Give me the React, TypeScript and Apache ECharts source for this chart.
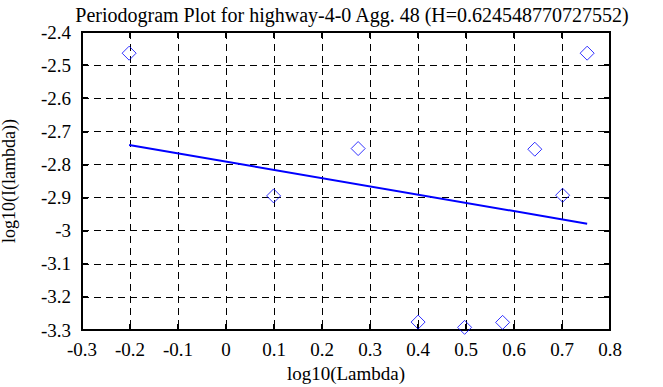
import React, { useEffect, useRef } from "react";
import * as echarts from "echarts";

const titleText = "Periodogram Plot for highway-4-0 Agg. 48 (H=0.624548770727552)";
const xName = "log10(Lambda)";
const yName = "log10(I(lambda))";

const logLambda = [-0.2018, 0.0992, 0.2753, 0.4002, 0.4971, 0.5763, 0.6433, 0.7013, 0.7524];
const logPeriodogram = [-2.464, -2.895, -2.752, -3.276, -3.292, -3.277, -2.754, -2.893, -2.464];
const fitX = [-0.2018, 0.7524];
const fitY = [-2.741, -2.979];

const fmt = (v: number) => {
  const r = parseFloat(v.toFixed(1));
  return r === 0 ? "0" : String(r);
};

export default function App() {
  const ref = useRef<HTMLDivElement>(null);
  useEffect(() => {
    if (!ref.current) return;
    const chart = echarts.init(ref.current, null, { renderer: "svg" });
    const font = "'Liberation Serif', 'Times New Roman', serif";
    const gridLeft = 82, gridRight = 53, gridTop = 32, gridBottom = 57;
    const tickStyle = { show: true, inside: true, length: 6, lineStyle: { color: "#000", width: 2 } };
    const splitStyle = { show: true, lineStyle: { color: "#000", width: 1, type: [7, 5] as any } };
    chart.setOption({
      animation: false,
      backgroundColor: "#fff",
      title: {
        text: titleText,
        left: 347,
        textAlign: "center",
        top: 0,
        textStyle: { fontFamily: font, fontSize: 20, fontWeight: "normal", color: "#000" },
      },
      grid: {
        left: gridLeft, right: gridRight, top: gridTop, bottom: gridBottom,
        containLabel: false, outerBoundsMode: "none",
        show: true, borderColor: "#000", borderWidth: 2, backgroundColor: "#fff",
      },
      xAxis: [
        {
          type: "value", min: -0.3, max: 0.8, interval: 0.1, position: "bottom",
          name: xName, nameLocation: "middle", nameGap: 33,
          nameTextStyle: { fontFamily: font, fontSize: 19, color: "#000" },
          axisLine: { show: true, onZero: false, lineStyle: { color: "#000", width: 2 } },
          axisTick: tickStyle,
          axisLabel: { formatter: fmt, fontFamily: font, fontSize: 19, color: "#000", margin: 10 },
          splitLine: splitStyle,
        },
        {
          type: "value", min: -0.3, max: 0.8, interval: 0.1, position: "top",
          axisLine: { show: true, onZero: false, lineStyle: { color: "#000", width: 2 } },
          axisTick: tickStyle, axisLabel: { show: false }, splitLine: { show: false },
        },
      ],
      yAxis: [
        {
          type: "value", min: -3.3, max: -2.4, interval: 0.1, position: "left",
          name: yName, nameLocation: "middle", nameGap: 64, nameRotate: 90,
          nameTextStyle: { fontFamily: font, fontSize: 18, color: "#000" },
          axisLine: { show: true, onZero: false, lineStyle: { color: "#000", width: 2 } },
          axisTick: tickStyle,
          axisLabel: { formatter: fmt, fontFamily: font, fontSize: 19, color: "#000", margin: 11 },
          splitLine: splitStyle,
        },
        {
          type: "value", min: -3.3, max: -2.4, interval: 0.1, position: "right",
          axisLine: { show: true, onZero: false, lineStyle: { color: "#000", width: 2 } },
          axisTick: tickStyle, axisLabel: { show: false }, splitLine: { show: false },
        },
      ],
      series: [
        {
          type: "line",
          data: fitX.map((x, i) => [x, fitY[i]]),
          showSymbol: false, symbol: "none",
          lineStyle: { color: "#0000ff", width: 2 },
          z: 3,
        },
        {
          type: "scatter",
          data: logLambda.map((x, i) => [x, logPeriodogram[i]]),
          symbol: "diamond", symbolSize: 14,
          itemStyle: { color: "rgba(0,0,0,0)", borderColor: "#0000ff", borderWidth: 1 },
          z: 4,
        },
      ],
    });
    return () => chart.dispose();
  }, []);
  return <div ref={ref} style={{ width: 663, height: 387, position: "absolute", left: 0, top: 0 }} />;
}
